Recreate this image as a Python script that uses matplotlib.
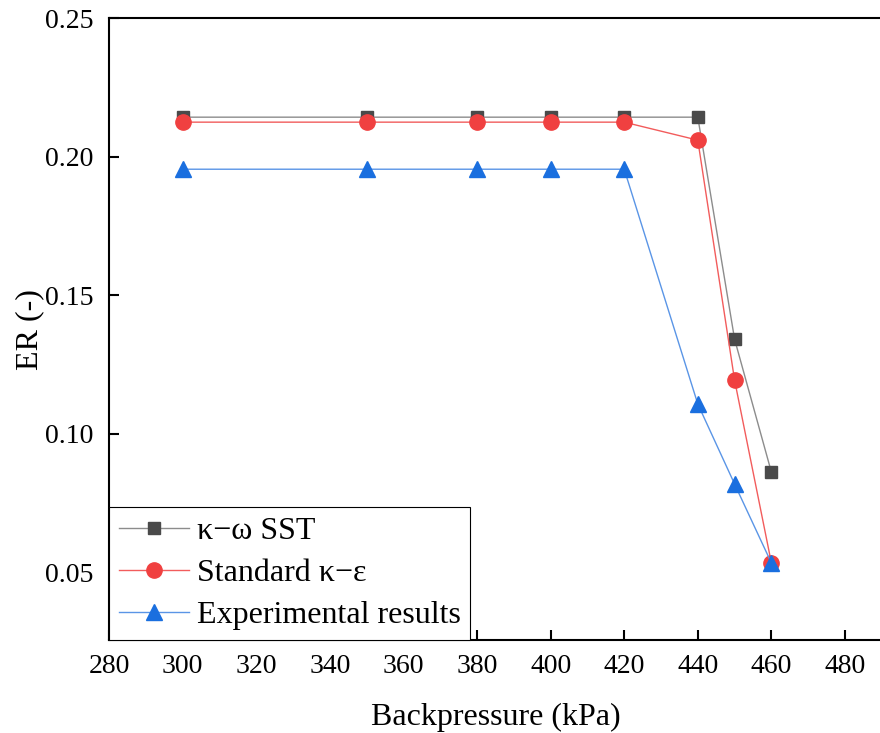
import matplotlib.pyplot as plt
import numpy as np

plt.rcParams['font.family'] = ['Liberation Serif', 'DejaVu Serif']

backpressure = [300, 350, 380, 400, 420, 440, 450, 460]
er_sst = [0.2143, 0.2143, 0.2143, 0.2143, 0.2143, 0.2143, 0.1341, 0.0861]
er_ke = [0.2125, 0.2125, 0.2125, 0.2125, 0.2125, 0.2060, 0.1193, 0.0533]
er_exp = [0.1955, 0.1955, 0.1955, 0.1955, 0.1955, 0.1107, 0.0818, 0.0533]

xticks = np.arange(280, 481, 20)
yticks = [0.05, 0.10, 0.15, 0.20, 0.25]

fig = plt.figure(figsize=(8.8, 7.33), dpi=100)
ax = fig.add_axes([0.124, 0.127, 0.878, 0.848])

ax.plot(backpressure, er_sst, color='#8c8c8c', lw=1.0, marker='s', ms=9,
        mfc='#4a4a4a', mec='#4a4a4a', label='κ−ω SST')
ax.plot(backpressure, er_ke, color='#f25c5c', lw=1.0, marker='o', ms=11,
        mfc='#f04040', mec='#f04040', label='Standard κ−ε')
ax.plot(backpressure, er_exp, color='#5a95e6', lw=1.0, marker='^', ms=12,
        mfc='#1a6fdf', mec='#1a6fdf', label='Experimental results')

ax.set_xlim(280, 490)
ax.set_ylim(0.0255, 0.25)
ax.set_xticks(xticks)
ax.set_yticks(yticks)
ax.set_yticklabels([f'{v:.2f}' for v in yticks])
ax.tick_params(direction='in', length=7, width=1.5, labelsize=20)
ax.tick_params(axis='x', pad=10)
ax.tick_params(axis='y', pad=11)
for s in ax.spines.values():
    s.set_linewidth(1.5)

ax.set_xlabel('Backpressure (kPa)', fontsize=23, labelpad=17)
ax.set_ylabel('ER (-)', fontsize=23, labelpad=1)

leg = ax.legend(loc='lower left', fontsize=23, frameon=True, fancybox=False,
                edgecolor='black', borderaxespad=0, handlelength=2.2,
                borderpad=0.3, labelspacing=0.4, handletextpad=0.25,
                framealpha=1)
leg.get_frame().set_linewidth(0.8)

fig.savefig('out.png', dpi=100)
